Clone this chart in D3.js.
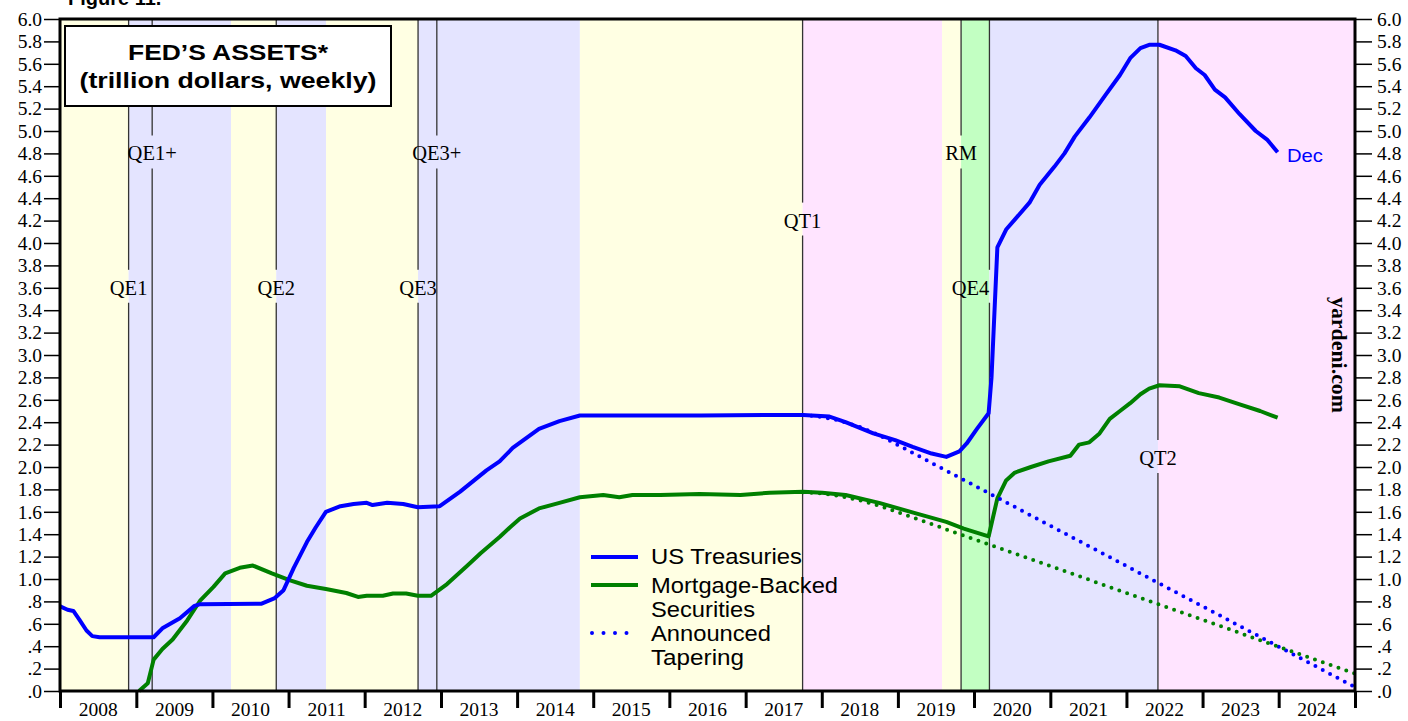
<html>
<script src='https://d3js.org/d3.v7.min.js'></script>
<style>
  body {margin:0; background:#fff;}
  text {fill:#000;}
  .tick-lbl {font-family:'Liberation Serif','Times New Roman',serif; font-size:19.5px;}
  .ev {font-family:'Liberation Serif','Times New Roman',serif; font-size:20.5px;}
  .sans {font-family:'Liberation Sans',Arial,sans-serif;}
</style>
<body onload='init()'>
<svg width=1408 height=721></svg>
<script>
// US Treasuries held by the Fed (trillion $)
var tsDates = ['2008-01-02','2008-02-06','2008-03-05','2008-04-02','2008-05-07','2008-06-04','2008-07-09',
  '2009-03-25','2009-05-06','2009-07-29','2009-10-07','2009-11-04','2010-08-25','2010-10-27','2010-12-08',
  '2011-01-26','2011-03-30','2011-05-11','2011-06-29','2011-09-07','2011-11-09','2012-01-11','2012-02-08',
  '2012-04-18','2012-07-04','2012-09-12','2012-12-26','2013-04-03','2013-08-07','2013-10-09','2013-12-11',
  '2014-04-16','2014-07-23','2014-10-29','2015-06-03','2016-06-01','2017-06-07','2017-10-04','2018-02-07',
  '2018-04-25','2018-09-05','2018-12-19','2019-03-13','2019-06-12','2019-08-21','2019-10-23','2019-11-27',
  '2020-01-15','2020-03-11','2020-03-25','2020-04-22','2020-06-03','2020-09-23','2020-11-11','2021-01-20',
  '2021-03-10','2021-04-28','2021-07-07','2021-09-22','2021-12-01','2022-01-19','2022-03-09','2022-04-20',
  '2022-06-08','2022-08-24','2022-10-12','2022-11-30','2023-01-11','2023-03-01','2023-04-19','2023-06-28',
  '2023-09-13','2023-11-08','2023-12-27'];
var tsValues = [0.755,0.725,0.715,0.64,0.54,0.49,0.48,
  0.48,0.56,0.65,0.76,0.775,0.78,0.83,0.90,
  1.10,1.33,1.46,1.60,1.65,1.67,1.68,1.66,
  1.68,1.67,1.64,1.65,1.78,1.97,2.05,2.17,
  2.34,2.41,2.46,2.46,2.46,2.465,2.465,2.45,
  2.40,2.30,2.24,2.18,2.12,2.09,2.14,2.21,
  2.34,2.48,2.80,3.96,4.12,4.36,4.52,4.68,
  4.80,4.95,5.12,5.32,5.50,5.65,5.74,5.77,
  5.77,5.72,5.67,5.56,5.50,5.37,5.30,5.15,
  5.00,4.92,4.81];

// Mortgage-backed securities held by the Fed (trillion $)
var mbsDates = ['2009-01-14','2009-02-25','2009-03-25','2009-05-06','2009-06-24','2009-09-02','2009-11-04',
  '2010-01-06','2010-03-03','2010-05-12','2010-07-14','2010-10-13','2011-01-05','2011-03-30','2011-06-29',
  '2011-10-05','2011-11-30','2012-01-11','2012-03-28','2012-05-16','2012-07-18','2012-09-12','2012-11-14',
  '2013-01-30','2013-05-08','2013-07-10','2013-10-09','2013-11-27','2014-01-15','2014-04-16','2014-07-23',
  '2014-10-29','2015-02-18','2015-05-06','2015-07-08','2015-11-18','2016-05-25','2016-12-07','2017-04-26',
  '2017-10-04','2018-01-03','2018-04-25','2018-10-03','2019-03-20','2019-08-21','2019-11-13','2020-03-11',
  '2020-04-22','2020-06-03','2020-07-15','2020-09-30','2020-12-23','2021-04-07','2021-05-19','2021-07-07',
  '2021-08-25','2021-10-13','2021-12-01','2022-01-19','2022-03-09','2022-04-20','2022-06-08','2022-09-14',
  '2022-12-14','2023-03-22','2023-06-28','2023-10-04','2023-12-27'];
var mbsValues = [0.00,0.07,0.28,0.375,0.46,0.63,0.81,
  0.93,1.05,1.10,1.12,1.05,0.99,0.94,0.91,
  0.875,0.84,0.85,0.85,0.87,0.87,0.85,0.85,
  0.955,1.12,1.23,1.375,1.46,1.54,1.63,1.68,
  1.73,1.75,1.73,1.75,1.75,1.76,1.75,1.77,
  1.78,1.77,1.75,1.68,1.59,1.51,1.45,1.38,
  1.72,1.88,1.95,2.00,2.05,2.10,2.20,2.22,
  2.30,2.43,2.50,2.57,2.65,2.70,2.73,2.72,
  2.66,2.62,2.56,2.50,2.44];

// Announced tapering paths (QT1 caps)
var taperTsDates = ['2017-10-04','2018-01-03','2018-04-04','2018-07-04','2018-10-03','2025-01-01'];
var taperTsValues = [2.465,2.447,2.411,2.357,2.285,0.035];
var taperMbsDates = ['2017-10-04','2018-01-03','2018-04-04','2018-07-04','2018-10-03','2025-01-01'];
var taperMbsValues = [1.775,1.763,1.739,1.703,1.655,0.155];

// policy regimes (background shading)
var regimeStarts = ['2008-01-01','2008-11-25','2010-03-31','2010-11-03','2011-06-30','2012-09-13','2014-10-29',
  '2017-10-01','2019-08-01','2019-10-31','2020-03-15','2022-06-01'];
var regimeEnds = ['2008-11-25','2010-03-31','2010-11-03','2011-06-30','2012-09-13','2014-10-29','2017-10-01',
  '2019-08-01','2019-10-31','2020-03-15','2022-06-01','2025-01-01'];
var regimeKinds = ['hold','qe','hold','qe','hold','qe','hold','qt','hold','rm','qe','qt'];

// events
var eventDates = ['2008-11-25','2009-03-18','2010-11-03','2012-09-13','2012-12-12','2017-10-01','2019-10-31','2020-03-15','2022-06-01'];
var eventLabels = ['QE1','QE1+','QE2','QE3','QE3+','QT1','RM','QE4','QT2'];

var yTicks = [0,0.2,0.4,0.6,0.8,1.0,1.2,1.4,1.6,1.8,2.0,2.2,2.4,2.6,2.8,3.0,3.2,3.4,3.6,3.8,4.0,4.2,4.4,4.6,4.8,5.0,5.2,5.4,5.6,5.8,6.0];
var yearLabels = ['2008','2009','2010','2011','2012','2013','2014','2015','2016','2017','2018','2019','2020','2021','2022','2023','2024'];

function init() {
  var parse = d3.timeParse('%Y-%m-%d');
  var svg = d3.select('svg');
  var left = 60, right = 1355, top = 19, bottom = 691;
  var x = d3.scaleTime().domain([parse('2008-01-01'), parse('2025-01-01')]).range([left, right]);
  var y = d3.scaleLinear().domain([0, 6]).range([bottom, top]);

  var shade = {hold:'#FFFFE3', qe:'#E4E4FF', qt:'#FFE4FF', rm:'#C2FFC2'};
  svg.append('g').selectAll('rect').data(regimeKinds).enter().append('rect')
    .attr('x', function(d,i){return x(parse(regimeStarts[i]));})
    .attr('width', function(d,i){return x(parse(regimeEnds[i])) - x(parse(regimeStarts[i]));})
    .attr('y', top).attr('height', bottom - top)
    .attr('fill', function(d){return shade[d];});

  // event lines with gaps around labels
  var labelLevel = {'QE1':3.6,'QE1+':4.8,'QE2':3.6,'QE3':3.6,'QE3+':4.8,'QT1':4.2,'RM':4.8,'QE4':3.6,'QT2':2.08};
  var labelShift = {'QE4':-19};
  var g = svg.append('g');
  eventDates.forEach(function(ds, i) {
    var xp = x(parse(ds));
    var lab = eventLabels[i];
    var yc = y(labelLevel[lab]);
    g.append('line').attr('x1', xp).attr('x2', xp).attr('y1', top).attr('y2', yc - 18)
      .attr('stroke', '#333').attr('stroke-width', 1.3);
    g.append('line').attr('x1', xp).attr('x2', xp).attr('y1', yc + 15).attr('y2', bottom)
      .attr('stroke', '#333').attr('stroke-width', 1.3);
    g.append('text').attr('class', 'ev').attr('x', xp + (labelShift[lab] || 0)).attr('y', yc + 7)
      .attr('text-anchor', 'middle').text(lab);
  });

  function series(dates, vals) {
    return dates.map(function(d,i){return [parse(d), vals[i]];});
  }
  var line = d3.line().x(function(d){return x(d[0]);}).y(function(d){return y(d[1]);});

  svg.append('path').datum(series(mbsDates, mbsValues)).attr('d', line)
    .attr('fill','none').attr('stroke','#008000').attr('stroke-width',4).attr('stroke-linejoin','round');
  svg.append('path').datum(series(tsDates, tsValues)).attr('d', line)
    .attr('fill','none').attr('stroke','#0000FF').attr('stroke-width',4).attr('stroke-linejoin','round');
  svg.append('path').datum(series(taperTsDates, taperTsValues)).attr('d', line)
    .attr('fill','none').attr('stroke','#0000FF').attr('stroke-width',4)
    .attr('stroke-linecap','round').attr('stroke-dasharray','0 8.3');
  svg.append('path').datum(series(taperMbsDates, taperMbsValues)).attr('d', line)
    .attr('fill','none').attr('stroke','#008000').attr('stroke-width',4)
    .attr('stroke-linecap','round').attr('stroke-dasharray','0 8.3');

  // axes
  var fmt = function(d){ var s = d3.format('.1f')(d); return d < 1 ? s.replace(/^0/, '') : s; };
  var la = svg.append('g').attr('transform','translate('+left+',0)')
    .call(d3.axisLeft(y).tickValues(yTicks).tickFormat(fmt).tickSize(16).tickPadding(2));
  var ra = svg.append('g').attr('transform','translate('+right+',0)')
    .call(d3.axisRight(y).tickValues(yTicks).tickFormat(fmt).tickSize(17).tickPadding(5));
  [la, ra].forEach(function(a){
    a.select('.domain').remove();
    a.selectAll('.tick line').attr('stroke','#000').attr('stroke-width',1.5);
    a.selectAll('.tick text').attr('class','tick-lbl').attr('font-size',null).attr('font-family',null).attr('fill','#000');
  });

  var years = d3.timeYear.range(parse('2008-01-01'), parse('2025-01-02'));
  var ba = svg.append('g').attr('transform','translate(0,'+bottom+')')
    .call(d3.axisBottom(x).tickValues(years).tickFormat('').tickSize(17));
  ba.select('.domain').remove();
  ba.selectAll('.tick line').attr('stroke','#000').attr('stroke-width',3);
  svg.append('g').selectAll('text').data(yearLabels).enter().append('text')
    .attr('class','tick-lbl').style('font-size','19.5px')
    .attr('x', function(d){ return (x(parse(d+'-01-01')) + x(parse((+d+1)+'-01-01')))/2; })
    .attr('y', 716).attr('text-anchor','middle').text(function(d){return d;});

  // frame
  svg.append('rect').attr('x', left).attr('y', top).attr('width', right-left).attr('height', bottom-top)
    .attr('fill','none').attr('stroke','#000').attr('stroke-width',3);

  // title box
  svg.append('rect').attr('x',65).attr('y',26).attr('width',326).attr('height',80)
    .attr('fill','#fff').attr('stroke','#000').attr('stroke-width',2);
  svg.append('text').attr('class','sans').attr('x',228).attr('y',60).attr('text-anchor','middle')
    .attr('font-size','22.5px').attr('font-weight','bold')
    .attr('textLength',200).attr('lengthAdjust','spacingAndGlyphs').text('FED\u2019S ASSETS*');
  svg.append('text').attr('class','sans').attr('x',228).attr('y',88).attr('text-anchor','middle')
    .attr('font-size','22.5px').attr('font-weight','bold')
    .attr('textLength',297).attr('lengthAdjust','spacingAndGlyphs').text('(trillion dollars, weekly)');
  svg.append('text').attr('class','sans').attr('x',68).attr('y',5)
    .attr('font-size','20px').attr('font-weight','bold').text('Figure 11.');

  // Dec label
  svg.append('text').attr('class','sans').attr('x',1287).attr('y',162)
    .attr('font-size','19px').style('fill','#0000FF')
    .attr('textLength',36).attr('lengthAdjust','spacingAndGlyphs').text('Dec');

  // yardeni.com
  svg.append('text').attr('transform','translate(1332,355) rotate(90)')
    .attr('text-anchor','middle').attr('font-family',"'Liberation Serif','Times New Roman',serif")
    .attr('font-weight','bold').attr('font-size','20px')
    .attr('textLength',116).attr('lengthAdjust','spacingAndGlyphs').text('yardeni.com');

  // legend
  var lg = svg.append('g').attr('class','sans');
  lg.append('line').attr('x1',591).attr('x2',638).attr('y1',557).attr('y2',557)
    .attr('stroke','#0000FF').attr('stroke-width',4);
  lg.append('line').attr('x1',591).attr('x2',638).attr('y1',585).attr('y2',585)
    .attr('stroke','#008000').attr('stroke-width',4);
  lg.append('line').attr('x1',592).attr('x2',630).attr('y1',633).attr('y2',633)
    .attr('stroke','#0000FF').attr('stroke-width',4).attr('stroke-linecap','round').attr('stroke-dasharray','0 11.5');
  var lt = [['US Treasuries',564,151],['Mortgage-Backed',593,187],['Securities',617,104],['Announced',641,120],['Tapering',665,93]];
  lt.forEach(function(t){
    lg.append('text').attr('x',651).attr('y',t[1]).attr('font-size','22px')
      .attr('textLength',t[2]).attr('lengthAdjust','spacingAndGlyphs').text(t[0]);
  });
}
</script>
</body>
</html>
